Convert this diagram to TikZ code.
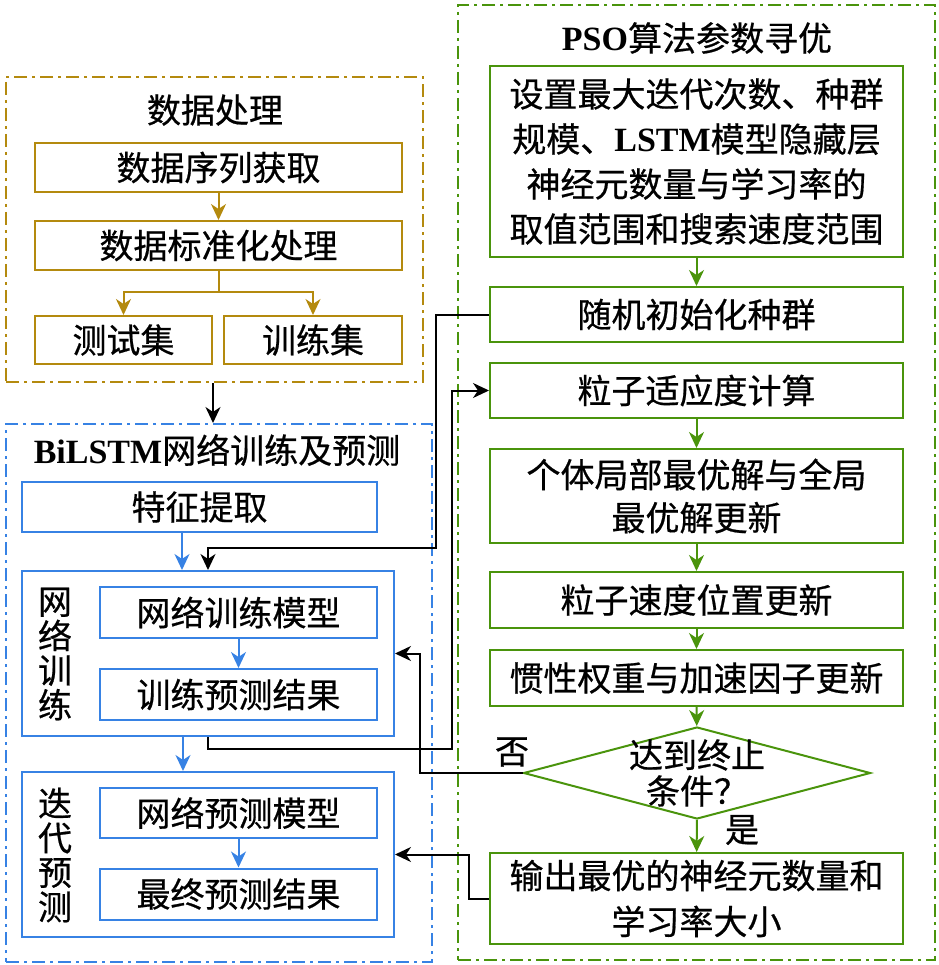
\documentclass[tikz,border=0pt]{standalone}
\usepackage{fontspec}
\setmainfont{Noto Sans CJK SC}[FakeBold=0.6]
\newfontfamily\tnr{Liberation Serif}
\usepackage{tikz}
\usetikzlibrary{arrows.meta,shapes.geometric,positioning,calc}
\definecolor{datagold}{RGB}{180,138,14}
\definecolor{netblue}{RGB}{55,130,228}
\definecolor{psogreen}{RGB}{74,148,12}

\begin{document}
\begin{tikzpicture}[x=1pt,y=-1pt,
    font=\fontsize{34}{45}\selectfont,
    >={Stealth[length=16pt,width=15pt,inset=5pt]},
    frame/.style={draw=#1,line width=2pt,dash pattern=on 13pt off 5pt on 3pt off 5pt,inner sep=0pt},
    stepbox/.style={draw=#1,line width=2pt,inner sep=0pt,align=center},
    goldline/.style={datagold,line width=2pt},
    bluearrow/.style={netblue,line width=2pt,->},
    goldarrow/.style={goldline,->},
    greenarrow/.style={psogreen,line width=2pt,->},
    flowarrow/.style={black,line width=2pt,->},
    sidetext/.style={align=center,font=\fontsize{34}{34.5}\selectfont}]
    \useasboundingbox (0,0) rectangle (938,965);

    % data processing
    \node[frame=datagold,minimum width=417,minimum height=305] (dataframe) at (214.5,229.5) {};
    \node (datatitle) at (215,110) {数据处理};
    \node[stepbox=datagold,minimum width=367,minimum height=49] (seq) at (218.5,167.5) {数据序列获取};
    \node[stepbox=datagold,minimum width=367,minimum height=49] (norm) at (218.5,245.5) {数据标准化处理};
    \node[stepbox=datagold,minimum width=177,minimum height=48] (test) at (123.5,340) {测试集};
    \node[stepbox=datagold,minimum width=178,minimum height=48] (train) at (313,340) {训练集};
    \draw[goldarrow] (seq) -- (norm);
    \draw[goldline] (norm.south) -- ++(0,21) coordinate (split);
    \draw[goldarrow] (split) -| (test.north);
    \draw[goldarrow] (split) -| (train.north);

    % BiLSTM
    \node[frame=netblue,minimum width=426,minimum height=538] (netframe) at (219,693) {};
    \node (nettitle) at (217,450) {{\tnr\bfseries BiLSTM}网络训练及预测};
    \node[stepbox=netblue,minimum width=355,minimum height=50] (feat) at (199.5,507) {特征提取};
    \node[stepbox=netblue,minimum width=372,minimum height=165] (trgroup) at (208,653.5) {};
    \node[stepbox=netblue,minimum width=277,minimum height=51] (trmodel) at (238.5,612.5) {网络训练模型};
    \node[stepbox=netblue,minimum width=277,minimum height=51] (trresult) at (238.5,694.5) {训练预测结果};
    \node[sidetext] (trlabel) at (55,654) {网\\络\\训\\练};
    \node[stepbox=netblue,minimum width=372,minimum height=165] (prgroup) at (208,854.5) {};
    \node[stepbox=netblue,minimum width=277,minimum height=50] (prmodel) at (238.5,813) {网络预测模型};
    \node[stepbox=netblue,minimum width=277,minimum height=51] (prresult) at (238.5,894) {最终预测结果};
    \node[sidetext] (prlabel) at (55,855) {迭\\代\\预\\测};
    \draw[bluearrow] (feat.south -| 182,0) -- (trgroup.north -| 182,0);
    \draw[bluearrow] (trmodel) -- (trresult);
    \draw[bluearrow] (trgroup.south -| 183,0) -- (prgroup.north -| 183,0);
    \draw[bluearrow] (prmodel) -- (prresult);
    \draw[flowarrow] (dataframe.south -| 213,0) -- (netframe.north -| 213,0);

    % PSO
    \node[frame=psogreen,minimum width=477,minimum height=955] (psoframe) at (696.5,482.5) {};
    \node (psotitle) at (697,38) {{\tnr\bfseries PSO}算法参数寻优};
    \node[stepbox=psogreen,minimum width=413,minimum height=191] (init) at (696.5,161.5)
        {设置最大迭代次数、种群\\规模、{\tnr\bfseries LSTM}模型隐藏层\\神经元数量与学习率的\\取值范围和搜索速度范围};
    \node[stepbox=psogreen,minimum width=413,minimum height=55] (rand) at (696.5,314.5) {随机初始化种群};
    \node[stepbox=psogreen,minimum width=413,minimum height=55] (fit) at (696.5,390.5) {粒子适应度计算};
    \node[stepbox=psogreen,minimum width=413,minimum height=94,font=\fontsize{34}{43}\selectfont] (best) at (696.5,496) {个体局部最优解与全局\\最优解更新};
    \node[stepbox=psogreen,minimum width=413,minimum height=56] (vel) at (696.5,600) {粒子速度位置更新};
    \node[stepbox=psogreen,minimum width=413,minimum height=56] (iner) at (696.5,678) {惯性权重与加速因子更新};
    \node[diamond,draw=psogreen,line width=2pt,inner sep=0pt,minimum width=347,minimum height=92] (cond) at (697,773) {};
    \node[align=center,font=\fontsize{34}{36}\selectfont] (condtext) at (cond) {达到终止\\条件？};
    \node[stepbox=psogreen,minimum width=413,minimum height=91,font=\fontsize{34}{46}\selectfont] (out) at (696.5,898.5) {输出最优的神经元数量和\\学习率大小};
    \draw[greenarrow] (init) -- (rand);
    \draw[greenarrow] (fit) -- (best);
    \draw[greenarrow] (best) -- (vel);
    \draw[greenarrow] (vel) -- (iner);
    \draw[greenarrow] (iner) -- (cond);
    \draw[greenarrow] (cond) -- (out);
    \node (yes) at (742,830) {是};

    % links between the parts
    \draw[flowarrow] (rand.west) -| ++(-53,233) -| (trgroup.north);
    \draw[flowarrow] (trgroup.south) -- ++(0,12) -| ($(fit.west)+(-37,0)$) -- (fit.west);
    \draw[flowarrow] (cond.west) -| ($(trgroup.east)+(25,0)$) -- (trgroup.east);
    \node (no) at (512,752) {否};
    \draw[flowarrow] (out.west) -| ($(prgroup.east)+(74,0)$) -- (prgroup.east);
\end{tikzpicture}
\end{document}
